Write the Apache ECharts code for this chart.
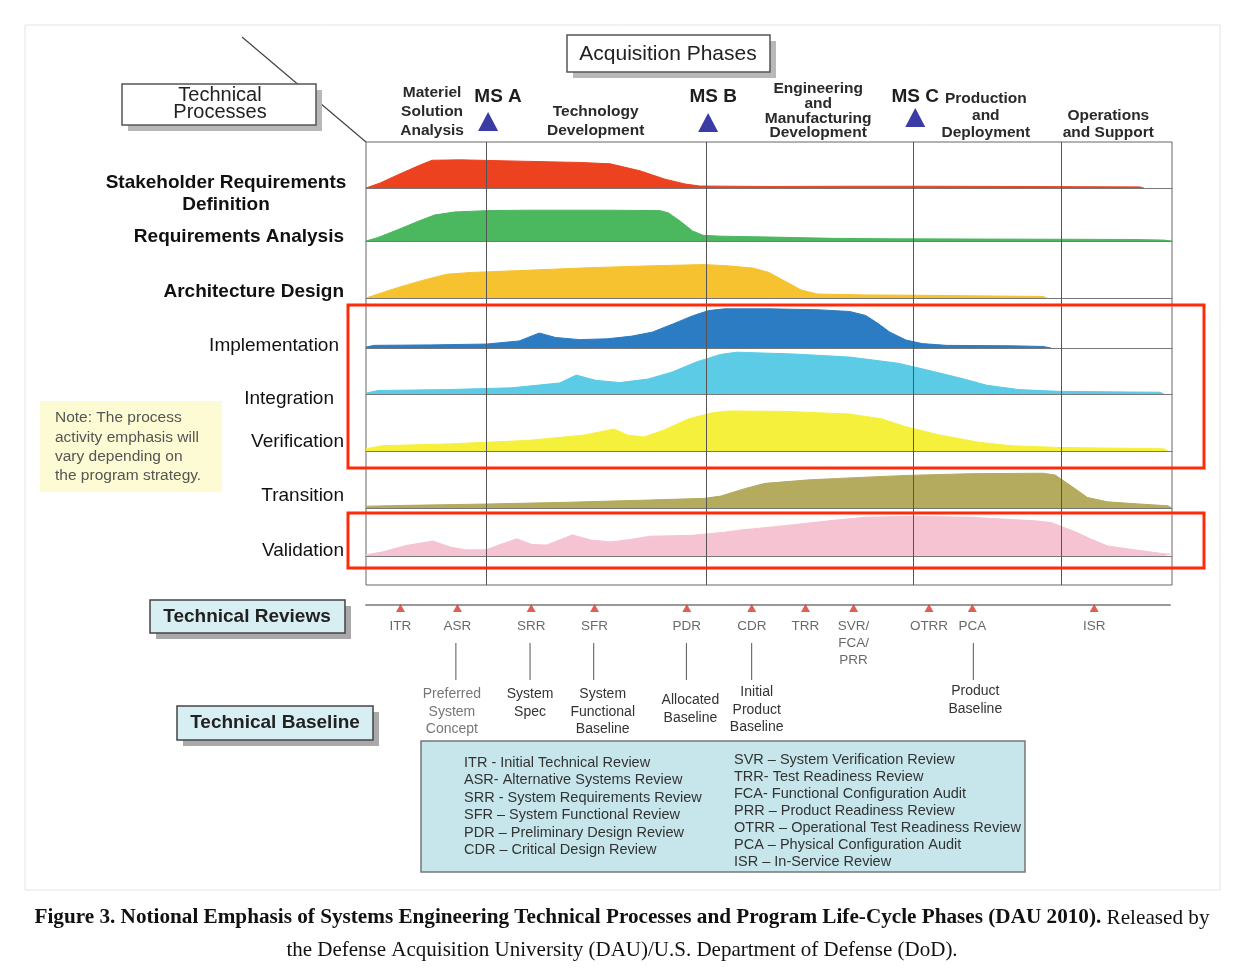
<!DOCTYPE html>
<html><head><meta charset="utf-8">
<script src="https://cdn.jsdelivr.net/npm/echarts@6/dist/echarts.min.js"></script>
<style>html,body{margin:0;padding:0;background:#fff}#c{width:1234px;height:978px}</style>
</head><body><div id="c"></div>
<script>
// ---------------- DATA ----------------
// x: 0..100 along the life-cycle timeline, y: relative activity emphasis (0..10)
const processNames = ['Stakeholder Requirements\nDefinition','Requirements Analysis','Architecture Design','Implementation','Integration','Verification','Transition','Validation'];
const processBold = [true,true,true,false,false,false,false,false];
const processColors = ['#ec4220','#4bb75e','#f6c22f','#2c7cc3','#5ccbe6','#f5f03c','#b4ab5e','#f5c3d1'];
const stakeholder = [[0,0],[1.7,1.1],[4.2,3.2],[6.7,5.2],[8.2,6.3],[11.7,6.4],[19.1,6.1],[26.6,5.8],[30.3,5.5],[34,3.9],[37.1,2],[39.6,0.9],[41.4,0.45],[50,0.35],[60,0.4],[70,0.4],[80,0.35],[88,0.3],[96,0.25],[96.5,0]];
const requirements = [[0,0],[1.5,0.8],[4,2.6],[6.5,4.5],[8.5,5.9],[11,6.6],[15,6.9],[20,7],[30,7],[36.5,6.9],[37.5,6.4],[39,4.5],[40.5,2.3],[41.8,1.3],[44,1.1],[50,0.9],[58,0.6],[65,0.5],[75,0.45],[85,0.4],[95,0.35],[99,0.2],[100,0]];
const architecture = [[0,0],[1.5,0.9],[4,2.4],[7,4],[10,5.4],[13,5.8],[20,6.3],[28,6.9],[35,7.3],[42,7.6],[45,7.3],[48,6.8],[50,5.8],[52,3.8],[54,1.8],[56,0.9],[62,0.7],[70,0.6],[78,0.45],[84,0.35],[84.5,0]];
const implementation = [[0,0.2],[1,0.6],[8,0.7],[15,0.9],[19,1.6],[21.5,3.4],[23.5,2.4],[26.5,1.9],[30,2.1],[33,2.7],[35.5,3.6],[38,5.4],[40.5,7.3],[42.5,8.5],[44.5,8.9],[50,8.9],[56,8.7],[60,8.3],[62,7.4],[63.5,5.6],[65,3.6],[67,1.8],[69,1],[72,0.6],[80,0.5],[84,0.35],[85,0]];
const integration = [[0,0.2],[1.5,0.8],[10,1],[18,1.4],[24,2.5],[26.1,4.3],[28.5,3.1],[31.5,2.6],[35,3.4],[38,5],[41,7.3],[44,9],[46,9.5],[53,9.1],[60,8.4],[66,7],[70,5.3],[74,3.5],[77,2],[81,1],[86,0.6],[95,0.45],[98.5,0.4],[99,0]];
const verification = [[0,0.5],[2,1.2],[10,1.6],[20,2.4],[27,3.6],[30.8,5],[32.5,3.6],[34.5,3.2],[37,4.8],[40,7.3],[43,8.7],[45,9.1],[52,9],[60,8.4],[64,7.3],[67,5.5],[71,3.7],[76,2],[80,1.2],[86,0.8],[95,0.6],[99,0.5],[99.5,0]];
const transition = [[0,0.4],[5,0.6],[14.9,0.9],[25,1.3],[35,1.8],[42,2.2],[44,2.7],[47,4.4],[49.5,5.6],[55,6.4],[62,7],[67,7.4],[75,7.8],[84,7.9],[85.5,7.5],[87.5,5],[89.5,2.4],[92,1.4],[96,0.9],[99.5,0.5],[100,0]];
const validation = [[0,0.3],[2,0.9],[5,2.4],[8.3,3.4],[10.5,2],[12.4,1.4],[14.9,1.4],[16.5,2.5],[18.7,3.9],[20.6,2.6],[22.4,2.5],[25.6,4.8],[28,3.6],[30.4,3.2],[33,3.8],[35.2,4.5],[38,4.6],[40.5,4.7],[44.5,5.4],[46.5,5.9],[52,6.9],[58,8.1],[62,8.8],[68,9],[75,8.8],[83,8],[85,7.6],[88,5.5],[90,3.8],[92,2.3],[95,1.5],[99,0.5],[100,0.4]];
const processSeries = [stakeholder, requirements, architecture, implementation, integration, verification, transition, validation];

const milestoneNames = ['MS A','MS B','MS C'];
const milestoneX = [14.9, 42.2, 67.9];
const phaseDividerX = [14.9, 42.2, 67.9, 86.2];
const phaseLabels = ['Materiel\nSolution\nAnalysis','Technology\nDevelopment','Engineering\nand\nManufacturing\nDevelopment','Production\nand\nDeployment','Operations\nand Support'];
const phaseCenterX = [8.2, 28.5, 56.1, 76.9, 92.1];

const reviewNames = ['ITR','ASR','SRR','SFR','PDR','CDR','TRR','SVR/\nFCA/\nPRR','OTRR','PCA','ISR'];
const reviewX = [4.3, 11.4, 20.6, 28.5, 40.0, 48.1, 54.8, 60.8, 70.2, 75.6, 90.8];
const baselineNames = ['Preferred\nSystem\nConcept','System\nSpec','System\nFunctional\nBaseline','Allocated\nBaseline','Initial\nProduct\nBaseline','Product\nBaseline'];
const baselineReview = [1, 2, 3, 4, 5, 9];

const legendLeft = ['ITR - Initial Technical Review','ASR- Alternative Systems Review','SRR - System Requirements Review','SFR – System Functional Review','PDR – Preliminary Design Review','CDR – Critical Design Review'];
const legendRight = ['SVR – System Verification Review','TRR- Test Readiness Review','FCA- Functional Configuration Audit','PRR – Product Readiness Review','OTRR – Operational Test Readiness Review','PCA – Physical Configuration Audit','ISR – In-Service Review'];

// ---------------- LAYOUT ----------------
const FL = 366, FW = 806, FT = 142, FH = 443, ROW_H = 44;
const rowBase = [188, 241, 298, 348, 394, 451, 508, 556];
const rowLabelY = [194, 237, 292, 346, 399, 442, 496, 551];
const rowLabelRight = [226, 344, 344, 339, 334, 344, 344, 344];
const msLabelDx = [12, 7, 2];
const msTriTop = [112, 113, 108];
const phaseLabelY = [112, 121, 111, 116, 124];
const phaseLineH = [19, 19, 14.7, 17, 17];
const baselineDx = [-6, -2, 7, 2, 3, 0];
const baselineY = [712, 703, 712, 709, 710, 700];
const SANS = '"Liberation Sans", Arial, sans-serif';
const SERIF = '"Liberation Serif", "Times New Roman", serif';

const chart = echarts.init(document.getElementById('c'));
const grids = [], xAxes = [], yAxes = [], series = [];
processSeries.forEach((d, i) => {
  grids.push({left: FL, width: FW, top: rowBase[i] - ROW_H, height: ROW_H});
  xAxes.push({gridIndex: i, type: 'value', min: 0, max: 100, axisLine: {show: true, lineStyle: {color: '#777', width: 1}}, axisTick: {show: false}, axisLabel: {show: false}, splitLine: {show: false}});
  yAxes.push({gridIndex: i, type: 'value', min: 0, max: 10, show: false});
  series.push({type: 'line', xAxisIndex: i, yAxisIndex: i, data: d, symbol: 'none', z: 2,
    lineStyle: {color: processColors[i], width: 1}, itemStyle: {color: processColors[i]},
    areaStyle: {color: processColors[i], opacity: 1}, silent: true});
});
// frame grid (index 8)
grids.push({left: FL, width: FW, top: FT, height: FH, show: true, borderColor: '#666', borderWidth: 1});
xAxes.push({gridIndex: 8, type: 'value', min: 0, max: 100, show: false});
yAxes.push({gridIndex: 8, type: 'value', min: 0, max: 1, show: false});
series.push({type: 'lines', coordinateSystem: 'cartesian2d', xAxisIndex: 8, yAxisIndex: 8, z: 5, silent: true,
  lineStyle: {color: '#555', width: 1, opacity: 1},
  data: phaseDividerX.map(v => ({coords: [[v, 0], [v, 1]]}))});
// reviews grid (index 9)
grids.push({left: FL, width: 804, top: 605, height: 10});
xAxes.push({gridIndex: 9, type: 'value', min: 0, max: 100.25, position: 'top', axisLine: {show: true, lineStyle: {color: '#999', width: 2}}, axisTick: {show: false}, axisLabel: {show: false}, splitLine: {show: false}});
yAxes.push({gridIndex: 9, type: 'value', min: 0, max: 1, inverse: true, show: false});
series.push({type: 'scatter', xAxisIndex: 9, yAxisIndex: 9, symbol: 'triangle', symbolSize: [9, 8], z: 5, silent: true,
  itemStyle: {color: '#d8362b'},
  label: {show: true, position: 'bottom', distance: 6, formatter: p => reviewNames[p.dataIndex], color: '#444', fontSize: 13.5, fontFamily: SANS, lineHeight: 17, align: 'center'},
  data: reviewX.map(v => [v, 0.3])});

chart.setOption({animation: false, backgroundColor: '#fff', grid: grids, xAxis: xAxes, yAxis: yAxes, series: series});

const px = v => chart.convertToPixel({gridIndex: 8}, [v, 0])[0];
const g = [];
function txt(x, y, text, font, fill, align, lh, z) {
  g.push({type: 'text', x: x, y: y, z: z || 20, silent: true,
    style: {text: text, font: font, fill: fill, align: align || 'center', textAlign: align || 'center', verticalAlign: 'middle', textVerticalAlign: 'middle', lineHeight: lh || 0}});
}
function shadowBox(x, y, w, h, fill, shadow, stroke) {
  g.push({type: 'rect', shape: {x: x + 6, y: y + 6, width: w, height: h}, style: {fill: shadow}, z: 10, silent: true});
  g.push({type: 'rect', shape: {x: x, y: y, width: w, height: h}, style: {fill: fill, stroke: stroke, lineWidth: 1.5}, z: 11, silent: true});
}
// figure border
g.push({type: 'rect', shape: {x: 25, y: 25, width: 1195, height: 865}, style: {fill: 'none', stroke: '#e4e4e4', lineWidth: 1}, z: 0, silent: true});
// diagonal line
g.push({type: 'line', shape: {x1: 242, y1: 37, x2: FL, y2: FT}, style: {stroke: '#444', lineWidth: 1.2}, z: 9, silent: true});
// header boxes
shadowBox(567, 35, 203, 37, '#fff', '#b8b8b8', '#555');
txt(668, 54, 'Acquisition Phases', '21px ' + SANS, '#222');
shadowBox(122, 84, 194, 41, '#fff', '#b8b8b8', '#555');
txt(220, 104, 'Technical\nProcesses', '20px ' + SANS, '#222', 'center', 17);
// phase labels
phaseLabels.forEach((t, i) => txt(px(phaseCenterX[i]), phaseLabelY[i], t, 'bold 15.5px ' + SANS, '#2a2a2a', 'center', phaseLineH[i]));
// milestones
milestoneX.forEach((v, i) => {
  const x = px(v);
  txt(x + msLabelDx[i], 97, milestoneNames[i], 'bold 19px ' + SANS, '#1e1e1e');
  g.push({type: 'polygon', shape: {points: [[x + 2, msTriTop[i]], [x - 8, msTriTop[i] + 19], [x + 12, msTriTop[i] + 19]]}, style: {fill: '#3b3ba6'}, z: 20, silent: true});
});
// row labels
processNames.forEach((t, i) => {
  if (i === 0) txt(rowLabelRight[i], rowLabelY[i], t, 'bold 19px ' + SANS, '#111', 'center', 22);
  else txt(rowLabelRight[i], rowLabelY[i], t, (processBold[i] ? 'bold ' : '') + '19px ' + SANS, '#111', 'right');
});
// red highlight rectangles
g.push({type: 'rect', shape: {x: 348, y: 305, width: 856, height: 163}, style: {fill: 'none', stroke: '#ff2a0a', lineWidth: 3}, z: 50, silent: true});
g.push({type: 'rect', shape: {x: 348, y: 513, width: 856, height: 55}, style: {fill: 'none', stroke: '#ff2a0a', lineWidth: 3}, z: 50, silent: true});
// note
g.push({type: 'rect', shape: {x: 40, y: 401, width: 182, height: 91}, style: {fill: '#fdfbd4'}, z: 5, silent: true});
txt(55, 447, 'Note: The process\nactivity emphasis will\nvary depending on\nthe program strategy.', '15.5px ' + SANS, '#555', 'left', 19.3);
// technical reviews / baseline boxes
shadowBox(150, 600, 195, 33, '#d7eef3', '#a9a9a9', '#444');
txt(247, 617, 'Technical Reviews', 'bold 19px ' + SANS, '#222');
shadowBox(177, 706, 196, 34, '#d7eef3', '#a9a9a9', '#444');
txt(275, 723, 'Technical Baseline', 'bold 19px ' + SANS, '#222');
// baselines
baselineReview.forEach((r, i) => {
  const x = px(reviewX[r]);
  g.push({type: 'line', shape: {x1: x - 2, y1: 643, x2: x - 2, y2: 680}, style: {stroke: '#555', lineWidth: 1}, z: 20, silent: true});
  txt(x + baselineDx[i], baselineY[i], baselineNames[i], '14px ' + SANS, i === 0 ? '#777' : '#333', 'center', 17.5);
});
// legend box
g.push({type: 'rect', shape: {x: 421, y: 741, width: 604, height: 131}, style: {fill: '#c6e6ec', stroke: '#777', lineWidth: 1.5}, z: 5, silent: true});
legendLeft.forEach((t, i) => txt(464, 763 + i * 17.4, t, '14.5px ' + SANS, '#333', 'left'));
legendRight.forEach((t, i) => txt(734, 760 + i * 17, t, '14.5px ' + SANS, '#333', 'left'));
// caption
g.push({type: 'text', x: 622, y: 918, z: 20, silent: true, style: {
  text: '{b|Figure 3. Notional Emphasis of Systems Engineering Technical Processes and Program Life-Cycle Phases (DAU 2010).}{n| Released by}',
  align: 'center', textAlign: 'center', verticalAlign: 'middle', textVerticalAlign: 'middle',
  rich: {b: {font: 'bold 21.2px ' + SERIF, fill: '#111', color: '#111'}, n: {font: '21.2px ' + SERIF, fill: '#111', color: '#111'}}}});
txt(622, 950, 'the Defense Acquisition University (DAU)/U.S. Department of Defense (DoD).', '21px ' + SERIF, '#111');

chart.setOption({graphic: {elements: g}});
</script></body></html>
